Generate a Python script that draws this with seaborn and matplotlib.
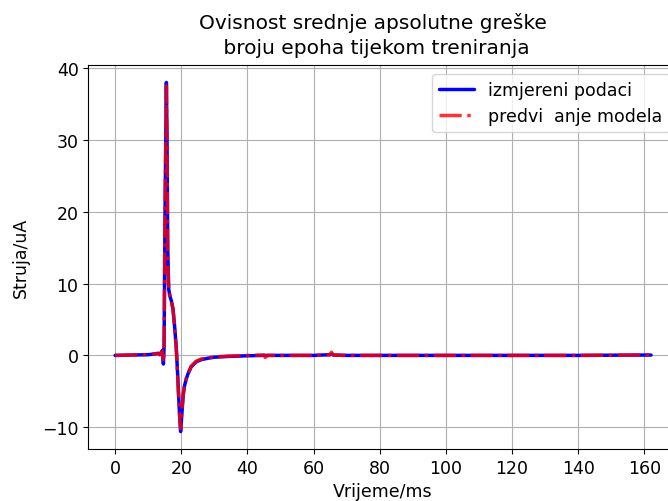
import matplotlib
matplotlib.use("Agg")
import matplotlib.pyplot as plt
import seaborn as sns
import pandas as pd

# Time samples (ms) and the two current traces (uA)
vrijeme = [0, 5, 10, 12, 13, 13.5, 14, 14.3, 14.6, 14.8, 15.1, 15.5, 15.7, 15.9,
           16.2, 16.6, 17.0, 17.5, 18.0, 18.5, 19.0, 19.4, 19.8, 20.2, 20.6, 21.0,
           21.5, 22.0, 23.0, 24.5, 26, 28, 30, 34, 40, 45, 45.4, 46, 50, 60, 65,
           65.4, 66, 70, 80, 100, 120, 140, 160, 162]
izmjereno = [0, 0.05, 0.1, 0.2, 0.3, 0.1, 0.4, 0.7, -1.2, 1.0, 20, 38.0, 30, 15,
             9.2, 8.2, 7.6, 6.5, 4.0, 1.0, -3.5, -7.5, -10.6, -8.0, -5.5, -4.2,
             -3.3, -2.6, -1.6, -0.9, -0.6, -0.4, -0.25, -0.15, -0.05, 0, 0, 0,
             0, 0, 0.1, 0.2, 0.05, 0, 0, 0, 0, 0, 0.05, 0.05]
predvidjeno = [0, 0.05, 0.1, 0.25, 0.2, 0.15, 0.5, 0.6, -0.9, 1.2, 21, 37.5, 29,
               14, 9.0, 8.3, 7.5, 6.4, 3.8, 0.8, -3.8, -7.8, -10.2, -7.6, -5.3,
               -4.0, -3.2, -2.5, -1.5, -0.8, -0.5, -0.35, -0.2, -0.1, 0, 0.05,
               -0.3, 0, 0, 0, 0.1, 0.45, 0.05, 0, 0, 0, 0, 0, 0.05, 0.05]

df = pd.DataFrame({"t": vrijeme, "izm": izmjereno, "pred": predvidjeno})

sns.set_style("ticks")
plt.rcParams["font.family"] = ["DejaVu Sans"]
plt.rcParams["text.color"] = "black"
plt.rcParams["axes.labelcolor"] = "black"

fig = plt.figure(figsize=(6.68, 5.02), dpi=100)
ax = fig.add_axes([0.1322, 0.1036, 0.8825, 0.7649])

sns.lineplot(data=df, x="t", y="izm", ax=ax, color="blue", lw=2.5,
             label="izmjereni podaci")
sns.lineplot(data=df, x="t", y="pred", ax=ax, color="red", lw=2.5, alpha=0.8,
             linestyle="-.", label="predvi  anje modela")

ax.set_xticks(range(0, 161, 20))
ax.set_yticks([-10, 0, 10, 20, 30, 40])
ax.grid(True, color="#b0b0b0", lw=0.8)
for s in ax.spines.values():
    s.set_color("black")
    s.set_linewidth(0.8)
ax.tick_params(labelsize=12.5, colors="black", length=3.5, width=0.8)
ax.set_xlabel("Vrijeme/ms", fontsize=12.5, color="black")
ax.set_ylabel("Struja/uA", fontsize=12.5, color="black", labelpad=9)
ax.set_title("Ovisnost srednje apsolutne greške\n broju epoha tijekom treniranja",
             fontsize=14.5, color="black", x=0.483, pad=9, linespacing=1.4)
ax.legend(loc="upper right", fontsize=12.5, frameon=True, fancybox=True,
          framealpha=0.8, edgecolor="#cccccc")

fig.savefig("out.png", dpi=100)
